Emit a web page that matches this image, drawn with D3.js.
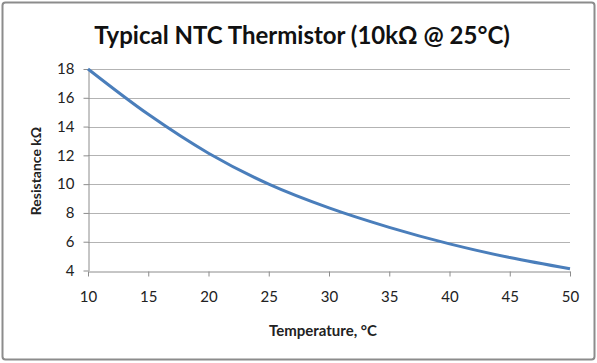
<!DOCTYPE html>
<html>
<head>
<meta charset="utf-8">
<script src="https://cdn.jsdelivr.net/npm/d3@7"></script>
<style>
  body { margin: 0; background: #fff; }
  text { font-family: Lato, "Liberation Sans", sans-serif; }
</style>
</head>
<body>
<svg width="597" height="363"></svg>
<script>
var temps = [10, 15, 20, 25, 30, 35, 40, 45, 50];
var resistance = [18.0, 14.85, 12.15, 10.0, 8.35, 7.0, 5.85, 4.9, 4.12];
var xTicks = [10, 15, 20, 25, 30, 35, 40, 45, 50];
var yTicks = [4, 6, 8, 10, 12, 14, 16, 18];

var svg = d3.select("svg");

// outer frame
svg.append("rect")
    .attr("x", 2.5).attr("y", 2.5)
    .attr("width", 592).attr("height", 357)
    .attr("rx", 3)
    .attr("fill", "#fff")
    .attr("stroke", "#8c8c8c")
    .attr("stroke-width", 2);

var x = d3.scaleLinear().domain([10, 50]).range([88, 570]);
var y = d3.scaleLinear().domain([4, 18]).range([270.5, 69]);

var g = svg.append("g");

// grid lines
g.selectAll(".grid")
    .data(yTicks.filter(function(d) { return d > 4; }))
    .enter().append("line")
    .attr("x1", x(10)).attr("x2", x(50))
    .attr("y1", function(d) { return Math.round(y(d)) + 0.5; })
    .attr("y2", function(d) { return Math.round(y(d)) + 0.5; })
    .attr("stroke", "#b3b3b3")
    .attr("stroke-width", 1);

// y axis
var yAxis = g.append("g")
    .attr("transform", "translate(" + (x(10) + 0.5) + ",0)")
    .call(d3.axisLeft(y).tickValues(yTicks).tickSize(5).tickSizeOuter(0).tickPadding(9));

// x axis
var xAxis = g.append("g")
    .attr("transform", "translate(0," + (Math.round(y(4)) + 0.5) + ")")
    .call(d3.axisBottom(x).tickValues(xTicks).tickSize(5).tickSizeOuter(0).tickPadding(15));

[xAxis, yAxis].forEach(function(a) {
  a.select(".domain").attr("stroke", "#8c8c8c");
  a.selectAll(".tick line").attr("stroke", "#8c8c8c");
  a.selectAll(".tick text")
    .attr("fill", "#222")
    .style("font-size", "15px")
    .style("font-family", "Lato, 'Liberation Sans', sans-serif");
});

// curve
var line = d3.line()
    .x(function(d, i) { return x(temps[i]); })
    .y(function(d) { return y(d); })
    .curve(d3.curveCatmullRom.alpha(0.5));

g.append("path")
    .attr("d", line(resistance))
    .attr("fill", "none")
    .attr("stroke", "#4a7ebb")
    .attr("stroke-width", 3);

// title
svg.append("text")
    .attr("x", 302).attr("y", 44)
    .attr("text-anchor", "middle")
    .style("font-size", "24px")
    .style("font-weight", "bold")
    .attr("fill", "#111")
    .text("Typical NTC Thermistor (10kΩ @ 25°C)");

// axis titles
svg.append("text")
    .attr("x", 323).attr("y", 336)
    .attr("text-anchor", "middle")
    .style("font-size", "15px")
    .style("font-weight", "bold")
    .attr("fill", "#222")
    .text("Temperature, °C");

svg.append("text")
    .attr("transform", "translate(41,171) rotate(-90)")
    .attr("text-anchor", "middle")
    .style("font-size", "14px")
    .style("font-weight", "bold")
    .attr("fill", "#222")
    .text("Resistance kΩ");
</script>
</body>
</html>
